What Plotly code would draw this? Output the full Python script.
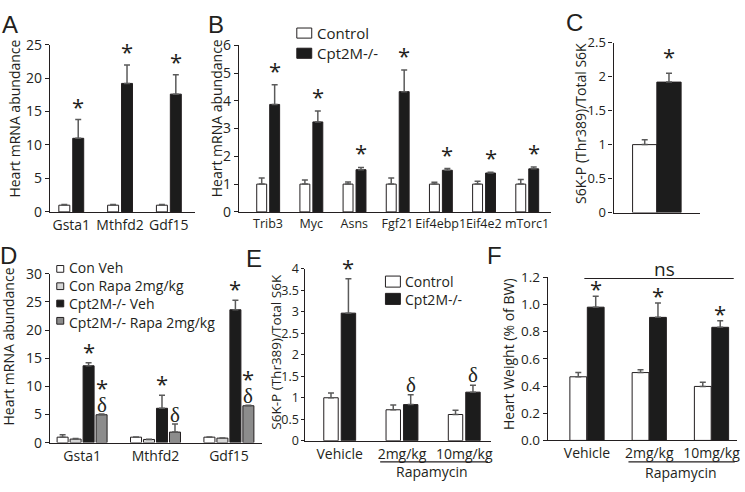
import plotly.graph_objects as go

W, H = 745, 492
FONT = "Open Sans"
TXT = "#231f20"

# ---------------- data ----------------
a_genes = ["Gsta1", "Mthfd2", "Gdf15"]
a_ctrl = [1.0, 1.0, 1.0]
a_ctrl_err = [0.12, 0.1, 0.1]
a_ko = [11.0, 19.2, 17.6]
a_ko_err = [2.8, 2.75, 2.9]
a_sig = ["*", "*", "*"]

b_genes = ["Trib3", "Myc", "Asns", "Fgf21", "Eif4ebp1", "Eif4e2", "mTorc1"]
b_ctrl = [1.0, 1.0, 1.0, 1.0, 1.0, 1.0, 1.0]
b_ctrl_err = [0.22, 0.15, 0.08, 0.22, 0.07, 0.1, 0.17]
b_ko = [3.87, 3.24, 1.52, 4.33, 1.5, 1.4, 1.55]
b_ko_err = [0.71, 0.39, 0.08, 0.78, 0.06, 0.03, 0.07]
b_sig = ["*", "*", "*", "*", "*", "*", "*"]

c_cat = [""]
c_ctrl = [1.0]
c_ctrl_err = [0.07]
c_ko = [1.92]
c_ko_err = [0.13]
c_sig = ["*"]

d_genes = ["Gsta1", "Mthfd2", "Gdf15"]
d_con_veh = [0.97, 0.97, 0.97]
d_con_veh_err = [0.45, 0.05, 0.03]
d_con_rapa = [0.63, 0.56, 0.8]
d_con_rapa_err = [0.12, 0.06, 0.03]
d_ko_veh = [13.65, 6.1, 23.6]
d_ko_veh_err = [0.55, 2.3, 1.7]
d_ko_rapa = [4.95, 1.87, 6.55]
d_ko_rapa_err = [0.15, 1.43, 0.1]
d_sig_veh = ["*", "*", "*"]
d_sig_rapa_star = ["*", "", "*"]
d_sig_rapa_delta = ["δ", "δ", "δ"]
d_legend = ["Con Veh", "Con Rapa 2mg/kg", "Cpt2M-/- Veh", "Cpt2M-/- Rapa 2mg/kg"]

e_groups = ["Vehicle", "2mg/kg", "10mg/kg"]
e_ctrl = [1.0, 0.72, 0.61]
e_ctrl_err = [0.11, 0.11, 0.10]
e_ko = [2.97, 0.84, 1.13]
e_ko_err = [0.8, 0.23, 0.16]
e_sig = ["*", "δ", "δ"]

f_groups = ["Vehicle", "2mg/kg", "10mg/kg"]
f_ctrl = [0.468, 0.499, 0.397]
f_ctrl_err = [0.031, 0.021, 0.031]
f_ko = [0.98, 0.905, 0.832]
f_ko_err = [0.08, 0.105, 0.048]
f_sig = ["*", "*", "*"]

group_legend = ["Control", "Cpt2M-/-"]

WHITE, LGRAY, BLACK, GRAY = "#ffffff", "#d6d6d6", "#1c1c1c", "#8c8c8c"

# ---------------- helpers ----------------
def px(x):
    return x / W

def py(y):
    return 1 - y / H

fig = go.Figure()
annotations = []
shapes = []

def add_bars(ax, cats, vals, errs, color, offset, width):
    n = len(vals)
    fig.add_trace(go.Bar(
        x=cats, y=vals, xaxis="x" + ax, yaxis="y" + ax,
        offset=offset, width=width,
        marker=dict(color=color, line=dict(color="#231f20", width=1)),
        error_y=dict(type="data", array=errs, arrayminus=[0] * n, symmetric=False,
                     color="#5a5a5a", thickness=1.5, width=3),
        showlegend=False, hoverinfo="skip"))

def add_marks(ax, texts, vals, errs, offset, width, shift, kind="*"):
    for i, t in enumerate(texts):
        if not t:
            continue
        if kind == "*":
            font = dict(family=FONT, size=22, color=TXT)
            ys = shift + 3
        else:
            font = dict(family="Liberation Serif", size=21, color=TXT)
            ys = shift - 4
        annotations.append(dict(
            x=i + offset + width / 2, y=vals[i] + errs[i], xref="x" + ax, yref="y" + ax,
            text=t, showarrow=False, font=font, yanchor="middle", xanchor="center",
            yshift=ys))

def add_stacked(ax, stars, deltas, vals, errs, offset, width, shift):
    # star above delta in one text block
    for i, (s, d) in enumerate(zip(stars, deltas)):
        if not s:
            continue
        txt = ('<span style="font-family:Open Sans;font-size:22px">' + s + '</span><br>'
               '<span style="font-family:Liberation Serif;font-size:21px">' + d + '</span>')
        annotations.append(dict(
            x=i + offset + width / 2, y=vals[i] + errs[i], xref="x" + ax, yref="y" + ax,
            text=txt, showarrow=False, font=dict(family=FONT, size=12, color=TXT),
            yanchor="bottom", xanchor="center", yshift=shift))

def set_axes(ax, box, xrange, yrange, dtick, fmt=None, showx=True, xfont=14, yfont=14, ticklen=4):
    x0, x1, ytop, ybot = box
    xa = dict(domain=[px(x0), px(x1)], range=xrange, type="category",
              anchor="y" + ax, showline=True, linecolor="#231f20", linewidth=1.2,
              ticks="", showgrid=False, zeroline=False, showticklabels=showx,
              tickangle=0, tickfont=dict(family=FONT, size=xfont, color=TXT))
    ya = dict(domain=[py(ybot), py(ytop)], range=yrange, anchor="x" + ax,
              showline=True, linecolor="#231f20", linewidth=1.2, ticks="outside",
              ticklen=ticklen, tickcolor="#231f20", tickwidth=1.2, dtick=dtick, tick0=0,
              showgrid=False, zeroline=False,
              tickfont=dict(family=FONT, size=yfont, color=TXT))
    if fmt:
        ya["tickformat"] = fmt
    fig.layout["xaxis" + ax] = xa
    fig.layout["yaxis" + ax] = ya

def ytitle(text, x, y, size=14):
    annotations.append(dict(x=px(x), y=py(y), xref="paper", yref="paper", text=text,
                            textangle=-90, showarrow=False,
                            font=dict(family=FONT, size=size, color=TXT),
                            xanchor="center", yanchor="middle"))

def label(text, x, y, size=24, family="Liberation Sans"):
    annotations.append(dict(x=px(x), y=py(y), xref="paper", yref="paper", text=text,
                            showarrow=False, font=dict(family=family, size=size, color=TXT),
                            xanchor="center", yanchor="middle"))

def swatch(x0, x1, yc, h, color):
    shapes.append(dict(type="rect", xref="paper", yref="paper",
                       x0=px(x0), x1=px(x1), y0=py(yc + h / 2), y1=py(yc - h / 2),
                       fillcolor=color, line=dict(color="#231f20", width=1)))

def legend_block(x, yc, texts, size):
    annotations.append(dict(x=px(x), y=py(yc), xref="paper", yref="paper",
                            text="<br>".join(texts), align="left",
                            showarrow=False, font=dict(family=FONT, size=size, color=TXT),
                            xanchor="left", yanchor="middle"))

def hline(x0, x1, y):
    shapes.append(dict(type="line", xref="paper", yref="paper", x0=px(x0), x1=px(x1),
                       y0=py(y), y1=py(y), line=dict(color="#231f20", width=1.2)))

# ---------------- panel A ----------------
aw, aoff = 0.225, (-0.255, 0.03)
add_bars("", a_genes, a_ctrl, a_ctrl_err, WHITE, aoff[0], aw)
add_bars("", a_genes, a_ko, a_ko_err, BLACK, aoff[1], aw)
set_axes("", (50, 196, 36, 210), [-0.44, 2.54], [0, 25], 5)
add_marks("", a_sig, a_ko, a_ko_err, aoff[1], aw, 11)
ytitle("Heart mRNA abundance", 15, 113)
label("A", 10, 15)

# ---------------- panel B ----------------
bw, boff = 0.23, (-0.26, 0.04)
add_bars("2", b_genes, b_ctrl, b_ctrl_err, WHITE, boff[0], bw)
add_bars("2", b_genes, b_ko, b_ko_err, BLACK, boff[1], bw)
set_axes("2", (240, 553, 36.7, 210), [-0.67, 6.55], [0, 6], 1, xfont=12.5)
add_marks("2", b_sig, b_ko, b_ko_err, boff[1], bw, 12)
ytitle("Heart mRNA abundance", 217.5, 113)
label("B", 217, 15)
swatch(298, 313, 24, 10.5, WHITE)
swatch(298, 313, 45, 10.5, BLACK)
legend_block(316, 24, group_legend[:1], 15)
legend_block(316, 45, group_legend[1:], 15)

# ---------------- panel C ----------------
cw, coff = 0.28, (-0.28, 0.0)
add_bars("3", c_cat, c_ctrl, c_ctrl_err, WHITE, coff[0], cw)
add_bars("3", c_cat, c_ko, c_ko_err, BLACK, coff[1], cw)
set_axes("3", (616, 703, 34, 210.7), [-0.5, 0.5], [0, 2.5], 0.5, showx=False, yfont=13)
add_marks("3", c_sig, c_ko, c_ko_err, coff[1], cw, 14)
ytitle("S6K-P (Thr389)/Total S6K", 583.3, 117.5)
label("C", 577, 13)

# ---------------- panel D ----------------
dw, dst = 0.15, 0.177
doffs = [(k - 1.5) * dst - dw / 2 for k in range(4)]
add_bars("4", d_genes, d_con_veh, d_con_veh_err, WHITE, doffs[0], dw)
add_bars("4", d_genes, d_con_rapa, d_con_rapa_err, LGRAY, doffs[1], dw)
add_bars("4", d_genes, d_ko_veh, d_ko_veh_err, BLACK, doffs[2], dw)
add_bars("4", d_genes, d_ko_rapa, d_ko_rapa_err, GRAY, doffs[3], dw)
set_axes("4", (50, 263, 274.3, 450), [-0.44, 2.45], [0, 30], 5)
add_marks("4", d_sig_veh, d_ko_veh, d_ko_veh_err, doffs[2], dw, 9)
add_marks("4", [d if not s else "" for s, d in zip(d_sig_rapa_star, d_sig_rapa_delta)],
          d_ko_rapa, d_ko_rapa_err, doffs[3], dw, 13, kind="d")
add_stacked("4", d_sig_rapa_star, d_sig_rapa_delta, d_ko_rapa, d_ko_rapa_err, doffs[3], dw, -5)
ytitle("Heart mRNA abundance", 9, 350)
label("D", 9, 255)
for k, col in enumerate([WHITE, LGRAY, BLACK, GRAY]):
    swatch(57, 64, 269.3 + 18 * k, 7, col)
legend_block(67, 296.3, d_legend, 14)

# ---------------- panel E ----------------
ew, eoff = 0.232, (-0.256, 0.024)
add_bars("5", e_groups, e_ctrl, e_ctrl_err, WHITE, eoff[0], ew)
add_bars("5", e_groups, e_ko, e_ko_err, BLACK, eoff[1], ew)
set_axes("5", (306.7, 493, 269.3, 448), [-0.55, 2.43], [0, 4], 0.5, yfont=12.5, ticklen=3)
add_marks("5", [s if s == "*" else "" for s in e_sig], e_ko, e_ko_err, eoff[1], ew, 9)
add_marks("5", [s if s == "δ" else "" for s in e_sig], e_ko, e_ko_err, eoff[1], ew, 14, kind="d")
ytitle("S6K-P (Thr389)/Total S6K", 277.5, 355, size=13.5)
label("E", 255, 258)
swatch(387, 402, 282.5, 11.5, WHITE)
swatch(387, 402, 300.5, 11.5, BLACK)
legend_block(405, 291.5, group_legend, 14)
hline(381.7, 490, 470)
label("Rapamycin", 433.3, 480.5, size=14, family=FONT)

# ---------------- panel F ----------------
fw, foff = 0.27, (-0.275, 0.005)
add_bars("6", f_groups, f_ctrl, f_ctrl_err, WHITE, foff[0], fw)
add_bars("6", f_groups, f_ko, f_ko_err, BLACK, foff[1], fw)
set_axes("6", (550, 740, 278, 447.7), [-0.63, 2.41], [0, 1.2], 0.2, fmt=".1f", yfont=13.5)
add_marks("6", f_sig, f_ko, f_ko_err, foff[1], fw, 5)
ytitle("Heart Weight (% of BW)", 510, 358)
label("F", 497, 255)
hline(631, 737.7, 470)
label("Rapamycin", 683.3, 480.7, size=14, family=FONT)
hline(586.7, 736.7, 279.3)
label("ns", 666.7, 269, size=19, family=FONT)

fig.update_layout(
    width=W, height=H, margin=dict(l=0, r=0, t=0, b=0),
    paper_bgcolor="white", plot_bgcolor="white",
    barmode="overlay", annotations=annotations, shapes=shapes,
    font=dict(family=FONT, color=TXT),
)

fig.write_html("out.html", config={"displayModeBar": False},
               post_script="document.body.style.margin='0';document.body.style.overflow='hidden';")
